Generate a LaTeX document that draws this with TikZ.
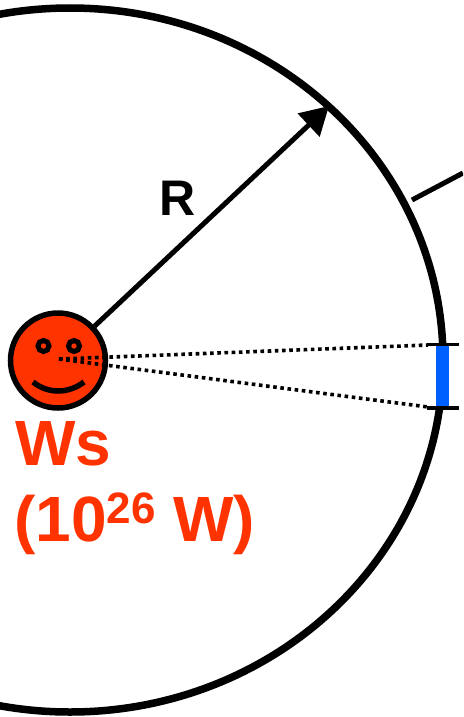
\documentclass[tikz,border=0pt]{standalone}
\usepackage{fontspec}
\setmainfont{Liberation Sans}
\usetikzlibrary{arrows.meta}
\definecolor{sunred}{RGB}{255,51,0}
\definecolor{pvblue}{RGB}{0,96,255}
\tikzset{
  orbit/.style={line width=7.5pt},
  thinline/.style={line width=5pt},
  dots/.style={line width=3.6pt,dash pattern=on 3.6pt off 3.6pt},
  tick/.style={line width=3.4pt},
  lab/.style={inner sep=0pt,anchor=base west,font=\bfseries}
}
\begin{document}
\begin{tikzpicture}[x=1pt,y=-1pt]
\useasboundingbox (0,0) rectangle (463,717);
\clip (0,0) rectangle (463,717);
\fill[white] (0,0) rectangle (463,717);
\coordinate (orbitc) at (70,360);
\draw[orbit] (orbitc) ellipse[x radius=373,y radius=352];
\coordinate (tip) at (329,106);
\coordinate (edgeA) at (412,200);
\coordinate (edgeB) at (463,173);
\draw[thinline] (edgeA) -- (edgeB);
\node[circle,draw=black,fill=sunred,line width=5.5pt,minimum size=95pt,inner sep=0pt] (sun) at (58,360.5) {};
\draw[thinline,-{Triangle[length=28pt,width=31pt]}] (sun) -- (tip);
\fill[pvblue] (435.8,345) rectangle (449,408);
\coordinate (pa) at (427,344.5);
\coordinate (pb) at (459,344.5);
\coordinate (pc) at (427,408);
\coordinate (pd) at (459,408);
\draw[tick] (pa) -- (pb);
\draw[tick] (pc) -- (pd);
\coordinate (da) at (59,359);
\coordinate (db) at (428,345);
\coordinate (dc) at (428,407);
\draw[dots] (da) -- (db);
\draw[dots] (da) -- (dc);
\draw[line width=5pt] (43.5,346) circle[radius=5.5];
\draw[line width=5pt] (74,346) circle[radius=5.5];
\draw[line width=5.5pt] (33,382) .. controls (48,394) and (68,394) .. (84,382);
\node[lab,font=\bfseries\fontsize{50}{50}\selectfont,text=black] (r) at (159,215) {R};
\node[lab,font=\bfseries\fontsize{64}{64}\selectfont,text=sunred] (ws) at (15,465) {Ws};
\node[lab,font=\bfseries\fontsize{64}{64}\selectfont,text=sunred] (pw) at (14,541) {(10\raisebox{18pt}{\fontsize{44}{44}\selectfont 26} W)};
\end{tikzpicture}
\end{document}
